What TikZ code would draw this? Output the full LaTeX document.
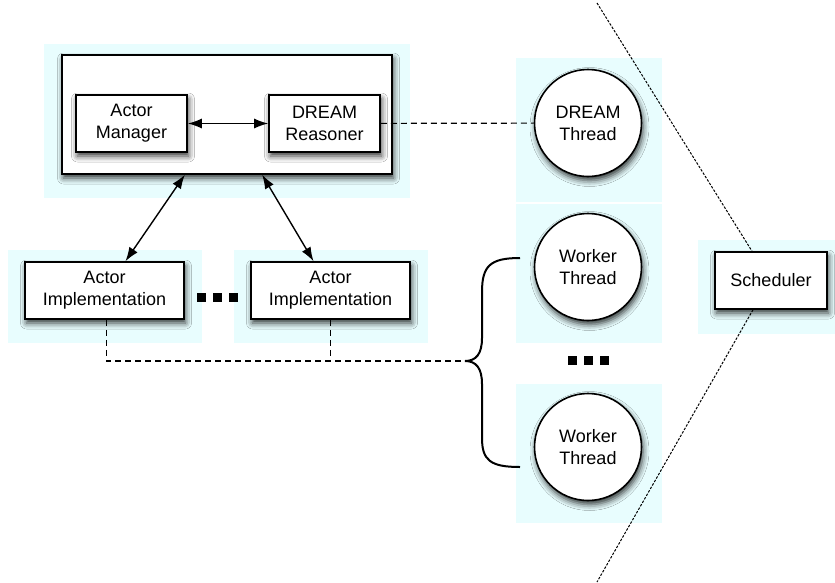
\documentclass[tikz,border=0pt]{standalone}
\usepackage{fontspec}
\setmainfont{Liberation Sans}
\usetikzlibrary{arrows.meta,shadows.blur}
\definecolor{bgcyan}{HTML}{E8FDFE}

\begin{document}
\begin{tikzpicture}[x=1pt, y=-1pt, >={Latex[length=14pt,width=10pt]},
  every node/.style={font=\fontsize{18}{22}\selectfont, align=center, inner sep=0pt},
  glowshadow/.style={blur shadow={shadow xshift=1.5pt, shadow yshift=-4pt, shadow blur radius=6pt, shadow opacity=80}},
  box/.style={draw, fill=white, line width=1.6pt, minimum height=57pt, glowshadow},
  thread/.style={circle, draw, fill=white, line width=1.6pt, minimum size=107pt, glowshadow},
  link/.style={dash pattern=on 6pt off 4pt, line width=1.2pt},
  divider/.style={dash pattern=on 2.5pt off 1.5pt, line width=1pt}]
\useasboundingbox (0,0) rectangle (835,582);

\fill[bgcyan] (44,44) rectangle (410,198);
\fill[bgcyan] (8,250) rectangle (202,343);
\fill[bgcyan] (234,250) rectangle (428,343);
\fill[bgcyan] (516,58) rectangle (662,202);
\fill[bgcyan] (516,204) rectangle (662,343);
\fill[bgcyan] (516,384) rectangle (662,523);
\fill[bgcyan] (698,240) rectangle (835,334);

\node[box, minimum width=330pt, minimum height=119pt] (outer) at (227,114.5) {};
\node[box, minimum width=111pt] (mgr) at (131.5,123.5) {Actor\\Manager};
\node[box, minimum width=111pt] (reas) at (324.5,123.5) {DREAM\\Reasoner};
\node[box, minimum width=159pt] (impl1) at (104.5,290.5) {Actor\\Implementation};
\node[box, minimum width=159pt] (impl2) at (330.5,290.5) {Actor\\Implementation};
\node[thread] (dream) at (588,123) {DREAM\\Thread};
\node[thread] (work1) at (588,267) {Worker\\Thread};
\node[thread] (work2) at (588,447) {Worker\\Thread};
\node[box, minimum width=112pt] (sched) at (771,280.5) {Scheduler};

\draw[<->, line width=1.4pt] (mgr) -- (reas);
\draw[<->, line width=1.4pt] ([xshift=-3pt]outer.south -| mgr.east) -- ([xshift=21pt]impl1.north);
\draw[<->, line width=1.4pt] ([xshift=-6pt]outer.south -| reas.west) -- ([xshift=-17pt]impl2.north);

\coordinate (tip) at (465,361);
\draw[link] (reas) -- (dream);
\draw[link] ([xshift=2pt]impl1.south) |- (tip);
\draw[link] (impl2.south) -- (impl2.south |- tip);

\draw[line width=2pt] (520,258) .. controls (490,258) and (482,266) .. (482,292) -- (482,338)
  .. controls (482,354) and (476,361) .. (tip) .. controls (476,361) and (482,368) .. (482,384)
  -- (482,438) .. controls (482,460) and (490,467) .. (520,467);

\coordinate (ctop) at (597,3);
\coordinate (cbot) at (597,582);
\draw[divider] (ctop) -- ([xshift=-19pt]sched.north);
\draw[divider] ([xshift=-18pt]sched.south) -- (cbot);

\foreach \x in {197,213,229}
{
    \fill (\x,293) rectangle ++(9,9);
}
\foreach \x in {568,584,600}
{
    \fill (\x,356) rectangle ++(9,9);
}
\end{tikzpicture}
\end{document}
